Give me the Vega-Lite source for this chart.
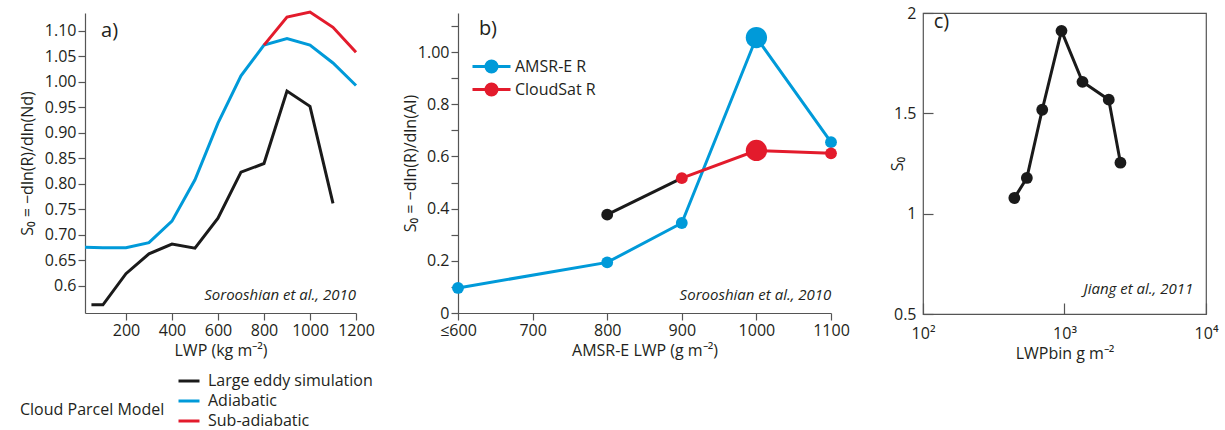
{
  "$schema": "https://vega.github.io/schema/vega-lite/v6.json",
  "padding": {"left": 19, "top": 4, "right": 5, "bottom": 0},
  "config": {
    "font": "Open Sans",
    "view": {"stroke": null},
    "axis": {"labelFontSize": 16, "titleFontSize": 16, "titleFontWeight": "normal", "labelColor": "#231f20", "titleColor": "#231f20", "domainColor": "#555555", "tickColor": "#555555", "grid": false, "tickSize": 7, "domainWidth": 1.2, "tickWidth": 1.2, "labelPadding": 2, "labelOverlap": false},
    "legend": {"labelFontSize": 16, "titleFontSize": 16, "titleFontWeight": "normal", "labelColor": "#231f20", "titleColor": "#231f20", "padding": 0, "labelLimit": 400, "titleLimit": 400},
    "text": {"color": "#231f20"}
  },
  "bounds": "flush",
  "spacing": 102,
  "resolve": {"scale": {"color": "independent", "size": "independent"}, "legend": {"color": "independent"}},
  "hconcat": [
    {
      "width": 271,
      "height": 300,
      "layer": [
        {
          "data": {"values": [
            {"lwp": 50, "s0": 0.563, "model": "Large eddy simulation"},
            {"lwp": 100, "s0": 0.563, "model": "Large eddy simulation"},
            {"lwp": 200, "s0": 0.624, "model": "Large eddy simulation"},
            {"lwp": 300, "s0": 0.663, "model": "Large eddy simulation"},
            {"lwp": 400, "s0": 0.682, "model": "Large eddy simulation"},
            {"lwp": 500, "s0": 0.674, "model": "Large eddy simulation"},
            {"lwp": 600, "s0": 0.733, "model": "Large eddy simulation"},
            {"lwp": 700, "s0": 0.823, "model": "Large eddy simulation"},
            {"lwp": 800, "s0": 0.840, "model": "Large eddy simulation"},
            {"lwp": 900, "s0": 0.982, "model": "Large eddy simulation"},
            {"lwp": 1000, "s0": 0.952, "model": "Large eddy simulation"},
            {"lwp": 1100, "s0": 0.762, "model": "Large eddy simulation"},
            {"lwp": 22, "s0": 0.676, "model": "Adiabatic"},
            {"lwp": 100, "s0": 0.675, "model": "Adiabatic"},
            {"lwp": 200, "s0": 0.675, "model": "Adiabatic"},
            {"lwp": 300, "s0": 0.685, "model": "Adiabatic"},
            {"lwp": 400, "s0": 0.727, "model": "Adiabatic"},
            {"lwp": 500, "s0": 0.808, "model": "Adiabatic"},
            {"lwp": 600, "s0": 0.919, "model": "Adiabatic"},
            {"lwp": 700, "s0": 1.012, "model": "Adiabatic"},
            {"lwp": 800, "s0": 1.072, "model": "Adiabatic"},
            {"lwp": 900, "s0": 1.085, "model": "Adiabatic"},
            {"lwp": 1000, "s0": 1.072, "model": "Adiabatic"},
            {"lwp": 1100, "s0": 1.037, "model": "Adiabatic"},
            {"lwp": 1200, "s0": 0.993, "model": "Adiabatic"},
            {"lwp": 800, "s0": 1.072, "model": "Sub-adiabatic"},
            {"lwp": 900, "s0": 1.127, "model": "Sub-adiabatic"},
            {"lwp": 1000, "s0": 1.137, "model": "Sub-adiabatic"},
            {"lwp": 1100, "s0": 1.107, "model": "Sub-adiabatic"},
            {"lwp": 1200, "s0": 1.058, "model": "Sub-adiabatic"}
          ]},
          "mark": {"type": "line", "strokeWidth": 3},
          "encoding": {
            "x": {"field": "lwp", "type": "quantitative", "scale": {"domain": [22, 1200], "nice": false, "zero": false},
                  "axis": {"values": [200, 400, 600, 800, 1000, 1200], "tickCount": 20, "format": "d", "title": "LWP (kg m⁻²)", "labelFlush": false, "labelOverlap": false, "titlePadding": 4}},
            "y": {"field": "s0", "type": "quantitative", "scale": {"domain": [0.547, 1.135], "nice": false, "zero": false},
                  "axis": {"values": [0.6, 0.65, 0.7, 0.75, 0.8, 0.85, 0.9, 0.95, 1.0, 1.05, 1.1], "tickCount": 20, "labelExpr": "datum.value < 0.61 ? '0.6' : format(datum.value, '.2f')", "labelOverlap": false, "title": "S₀ = −dln(R)/dln(Nd)", "titlePadding": 9}},
            "color": {"field": "model", "type": "nominal",
                      "scale": {"domain": ["Large eddy simulation", "Adiabatic", "Sub-adiabatic"], "range": ["#1a1a1a", "#009ad9", "#e31b2c"]},
                      "legend": {"orient": "none", "legendX": -65, "legendY": 356, "title": ["Cloud Parcel Model", ""], "titleLineHeight": 11, "titleOrient": "left", "titleAnchor": "end", "titleBaseline": "bottom", "titlePadding": 12, "symbolType": "stroke", "symbolStrokeWidth": 3, "symbolSize": 441, "rowPadding": 0, "labelOffset": 7}}
          }
        },
        {
          "data": {"values": [{}]},
          "mark": {"type": "text", "fontSize": 20, "align": "left", "baseline": "middle"},
          "encoding": {"x": {"datum": 92}, "y": {"datum": 1.1}, "text": {"value": "a)"}}
        },
        {
          "data": {"values": [{}]},
          "mark": {"type": "text", "fontSize": 15, "fontStyle": "italic", "align": "right", "baseline": "middle"},
          "encoding": {"x": {"datum": 1200}, "y": {"datum": 0.582}, "text": {"value": "Sorooshian et al., 2010"}}
        }
      ]
    },
    {
      "bounds": "flush",
      "spacing": 92,
      "resolve": {"scale": {"color": "independent", "size": "independent"}, "legend": {"color": "independent"}},
      "hconcat": [
        {
          "width": 373,
          "height": 300,
          "layer": [
            {
              "data": {"values": [
                {"lwp": 800, "s0": 0.377},
                {"lwp": 900, "s0": 0.517}
              ]},
              "mark": {"type": "line", "strokeWidth": 3, "color": "#1a1a1a"},
              "encoding": {
                "x": {"field": "lwp", "type": "quantitative", "scale": {"domain": [600, 1100], "nice": false, "zero": false},
                      "axis": {"values": [600, 700, 800, 900, 1000, 1100], "tickCount": 20, "labelExpr": "datum.value == 600 ? '≤600' : format(datum.value, 'd')", "labelOverlap": false, "title": "AMSR-E LWP (g m⁻²)", "labelFlush": false, "titlePadding": 4}},
                "y": {"field": "s0", "type": "quantitative", "scale": {"domain": [0, 1.15], "nice": false},
                      "axis": {"values": [0, 0.1, 0.2, 0.3, 0.4, 0.5, 0.6, 0.7, 0.8, 0.9, 1.0, 1.1], "tickCount": 20, "labelExpr": "datum.value == 0 ? '0' : datum.value == 1 ? '1.00' : (round(datum.value * 10) % 2 == 0 ? format(datum.value, '.1f') : '')", "labelOverlap": false, "title": "S₀ = −dln(R)/dln(AI)", "titlePadding": -1}}
              }
            },
            {
              "data": {"values": [
                {"lwp": 600, "s0": 0.096, "series": "AMSR-E R", "marker": "normal"},
                {"lwp": 800, "s0": 0.194, "series": "AMSR-E R", "marker": "normal"},
                {"lwp": 900, "s0": 0.345, "series": "AMSR-E R", "marker": "normal"},
                {"lwp": 1000, "s0": 1.056, "series": "AMSR-E R", "marker": "large"},
                {"lwp": 1100, "s0": 0.655, "series": "AMSR-E R", "marker": "normal"},
                {"lwp": 900, "s0": 0.517, "series": "CloudSat R", "marker": "normal"},
                {"lwp": 1000, "s0": 0.623, "series": "CloudSat R", "marker": "large"},
                {"lwp": 1100, "s0": 0.612, "series": "CloudSat R", "marker": "normal"}
              ]},
              "layer": [
                {
                  "mark": {"type": "line", "strokeWidth": 3},
                  "encoding": {
                    "x": {"field": "lwp", "type": "quantitative"},
                    "y": {"field": "s0", "type": "quantitative"},
                    "color": {"field": "series", "type": "nominal",
                              "scale": {"domain": ["AMSR-E R", "CloudSat R"], "range": ["#009ad9", "#e31b2c"]},
                              "legend": {"orient": "none", "legendX": 22.5, "legendY": 42.5, "title": null,
                                         "symbolType": "M-2,0H2M-0.08,0A0.08,0.08 0 1,0 0.08,0A0.08,0.08 0 1,0 -0.08,0M-0.25,0A0.25,0.25 0 1,0 0.25,0A0.25,0.25 0 1,0 -0.25,0M-0.42,0A0.42,0.42 0 1,0 0.42,0A0.42,0.42 0 1,0 -0.42,0M-0.58,0A0.58,0.58 0 1,0 0.58,0A0.58,0.58 0 1,0 -0.58,0",
                                         "symbolSize": 361, "symbolStrokeWidth": 3, "labelOffset": 12.5, "rowPadding": -4}}
                  }
                },
                {
                  "mark": {"type": "point", "filled": true, "opacity": 1, "shape": "circle"},
                  "encoding": {
                    "x": {"field": "lwp", "type": "quantitative"},
                    "y": {"field": "s0", "type": "quantitative"},
                    "color": {"field": "series", "type": "nominal", "legend": null},
                    "size": {"field": "marker", "type": "nominal", "scale": {"domain": ["normal", "large"], "range": [140, 452]}, "legend": null}
                  }
                }
              ]
            },
            {
              "data": {"values": [
                {"lwp": 800, "s0": 0.377},
                {"lwp": 900, "s0": 0.517}
              ]},
              "transform": [{"filter": "datum.lwp == 800"}],
              "mark": {"type": "point", "filled": true, "opacity": 1, "shape": "circle", "size": 140, "color": "#1a1a1a"},
              "encoding": {
                "x": {"field": "lwp", "type": "quantitative"},
                "y": {"field": "s0", "type": "quantitative"}
              }
            },
            {
              "data": {"values": [{}]},
              "mark": {"type": "text", "fontSize": 20, "align": "left", "baseline": "middle"},
              "encoding": {"x": {"datum": 628}, "y": {"datum": 1.089}, "text": {"value": "b)"}}
            },
            {
              "data": {"values": [{}]},
              "mark": {"type": "text", "fontSize": 15, "fontStyle": "italic", "align": "right", "baseline": "middle"},
              "encoding": {"x": {"datum": 1100.5}, "y": {"datum": 0.07}, "text": {"value": "Sorooshian et al., 2010"}}
            }
          ]
        },
        {
          "width": 283,
          "height": 301,
          "view": {"stroke": "#555555", "strokeWidth": 1.2},
          "layer": [
            {
              "data": {"values": [
                {"lwp": 442, "s0": 1.078},
                {"lwp": 542, "s0": 1.178},
                {"lwp": 696, "s0": 1.518},
                {"lwp": 952, "s0": 1.911},
                {"lwp": 1340, "s0": 1.657},
                {"lwp": 2055, "s0": 1.568},
                {"lwp": 2485, "s0": 1.254}
              ]},
              "layer": [
                {
                  "mark": {"type": "line", "strokeWidth": 3, "color": "#1a1a1a"},
                  "encoding": {
                    "x": {"field": "lwp", "type": "quantitative", "scale": {"type": "log", "domain": [100, 10000], "nice": false},
                          "axis": {"values": [100, 1000, 10000], "tickCount": 20, "labelExpr": "datum.value == 100 ? '10²' : datum.value == 1000 ? '10³' : '10⁴'", "labelOverlap": false, "title": "LWPbin g m⁻²", "domain": false, "tickSize": -11, "labelPadding": 22, "labelFlush": false, "titlePadding": 4}},
                    "y": {"field": "s0", "type": "quantitative", "scale": {"domain": [0.5, 2], "nice": false, "zero": false},
                          "axis": {"values": [0.5, 1, 1.5, 2], "tickCount": 20, "labelExpr": "'' + datum.value", "labelOverlap": false, "title": "S₀", "domain": false, "tickSize": -10, "labelPadding": 17, "titlePadding": -12}}
                  }
                },
                {
                  "mark": {"type": "point", "filled": true, "opacity": 1, "shape": "circle", "size": 140, "color": "#1a1a1a"},
                  "encoding": {
                    "x": {"field": "lwp", "type": "quantitative"},
                    "y": {"field": "s0", "type": "quantitative"}
                  }
                }
              ]
            },
            {
              "data": {"values": [{}]},
              "mark": {"type": "text", "fontSize": 20, "align": "left", "baseline": "middle"},
              "encoding": {"x": {"datum": 119}, "y": {"datum": 1.953}, "text": {"value": "c)"}}
            },
            {
              "data": {"values": [{}]},
              "mark": {"type": "text", "fontSize": 15, "fontStyle": "italic", "align": "right", "baseline": "middle"},
              "encoding": {"x": {"datum": 8128}, "y": {"datum": 0.626}, "text": {"value": "Jiang et al., 2011"}}
            }
          ]
        }
      ]
    }
  ]
}
